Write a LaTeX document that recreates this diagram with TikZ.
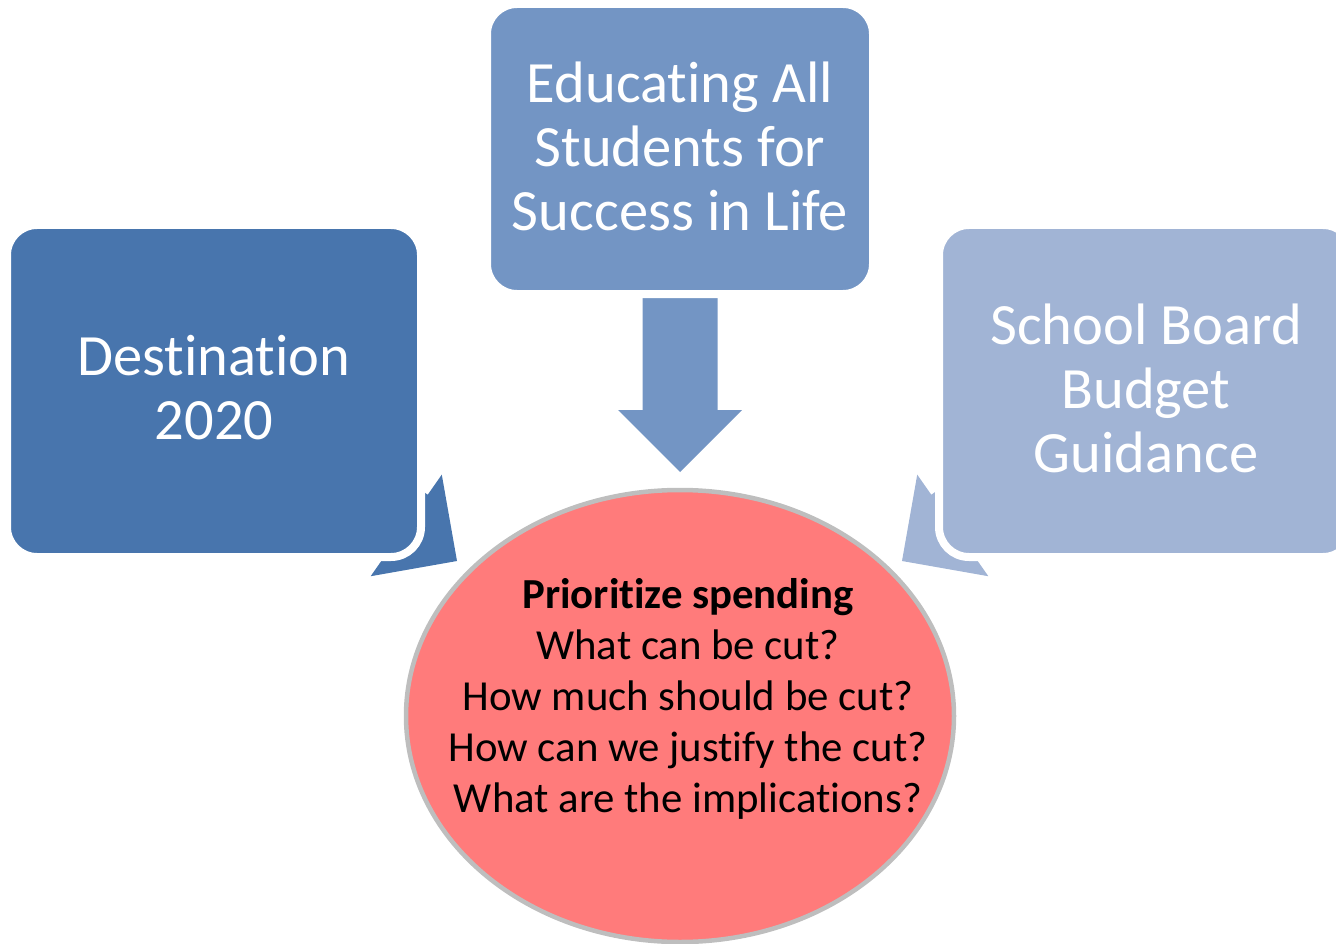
\documentclass[tikz,border=0pt]{standalone}
\usepackage{fontspec}
\setmainfont{Carlito}[Ligatures={NoCommon}]
\usetikzlibrary{shapes.geometric}

\definecolor{boxdark}{RGB}{72,117,173}
\definecolor{boxmid}{RGB}{115,149,196}
\definecolor{boxlight}{RGB}{161,180,213}
\definecolor{hubfill}{RGB}{255,123,123}
\definecolor{hubrim}{RGB}{190,190,190}

\tikzset{
  topicbox/.style={rectangle, rounded corners=30pt, draw=white, line width=8pt,
    inner sep=0pt, outer sep=0pt, text=white, align=center,
    font=\fontsize{58.5}{64}\selectfont},
  hub/.style={ellipse, fill=hubfill, draw=hubrim, line width=4.5pt,
    inner sep=0pt, minimum width=548pt, minimum height=452pt},
  hubtext/.style={align=center, text=black, font=\fontsize{42.8}{51}\selectfont},
  blockarrow/.pic={
    \fill (0,0) -- (-62,62) -- (-62,37.5) -- (-215,37.5) -- (-215,-37.5)
          -- (-62,-37.5) -- (-62,-62) -- cycle;
  }
}

\begin{document}
\begin{tikzpicture}[x=1pt, y=-1pt]
  \useasboundingbox (0,0) rectangle (1336,944);

  % arrow tips pointing at the central ellipse
  \coordinate (tipTop)   at (680,472);
  \coordinate (tipLeft)  at (457,561);
  \coordinate (tipRight) at (902,561);

  % block arrows, drawn first so the boxes cover their tails
  \pic[fill=boxmid,   rotate=-90]  at (tipTop)   {blockarrow};
  \pic[fill=boxdark,  rotate=-35]  at (tipLeft)  {blockarrow};
  \pic[fill=boxlight, rotate=-145] at (tipRight) {blockarrow};

  % the three source boxes
  \node[topicbox, fill=boxmid, minimum width=386pt, minimum height=290pt]
    (educating) at (680,149) {};
  \node[topicbox, fill=boxdark, minimum width=414pt, minimum height=332pt]
    (destination) at (214,391) {};
  \node[topicbox, fill=boxlight, minimum width=414pt, minimum height=332pt]
    (board) at (1146,391) {};

  % box labels
  \node[topicbox, draw=none, fill=none] (educatingtext) at ([yshift=3pt]educating.center)
    {Educating All\\Students for\\Success in Life};
  \node[topicbox, draw=none, fill=none] (destinationtext) at ([yshift=3pt]destination.center)
    {Destination\\2020};
  \node[topicbox, draw=none, fill=none] (boardtext) at ([yshift=3pt]board.center)
    {School Board\\Budget\\Guidance};

  % central ellipse and its questions
  \node[hub] (spending) at (680,716) {};
  \node[hubtext] (questions) at (688,699)
    {\textbf{Prioritize spending}\\What can be cut?\\How much should be cut?\\How can we justify the cut?\\What are the implications?};
\end{tikzpicture}
\end{document}
